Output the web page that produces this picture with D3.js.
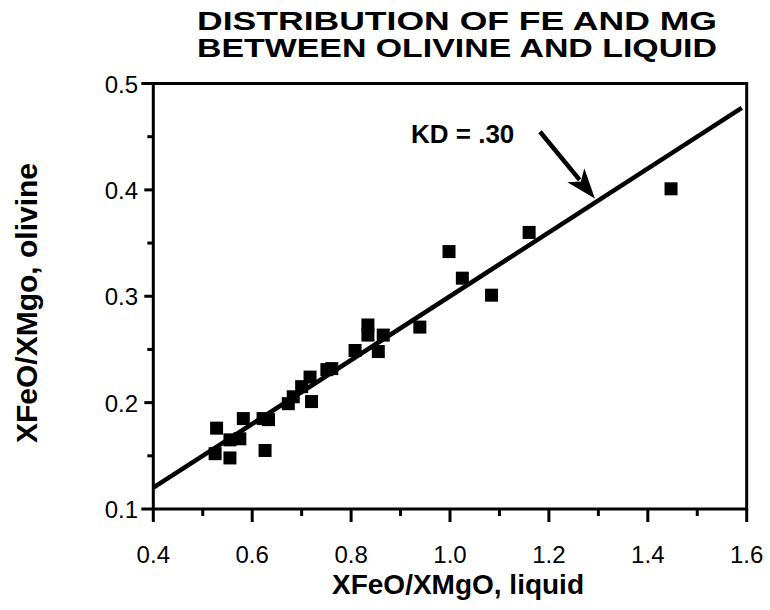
<!DOCTYPE html>
<html lang="en">
<head>
  <meta charset="UTF-8">
  <title>Distribution of Fe and Mg</title>
  <script src="https://d3js.org/d3.v7.min.js"></script>
  <style>
    body { margin: 0; background: #fff; }
    text { font-family: "Liberation Sans", Arial, sans-serif; fill: #000; }
    .title { font-size: 26px; font-weight: bold; }
    .axisTitle { font-weight: bold; }
    .tickLabel { font-size: 24px; }
    .frame { fill: none; stroke: #000; stroke-width: 3px; }
    .tick { stroke: #000; stroke-width: 3px; }
    .fit { stroke: #000; stroke-width: 4.5px; }
    .pt { fill: #000; }
  </style>
</head>
<body>
  <svg width="770" height="610"></svg>
  <script>
    // values
    let liquid  = [0.528, 0.525, 0.555, 0.555, 0.575, 0.582, 0.622, 0.633, 0.626, 0.673,
                   0.683, 0.700, 0.717, 0.720, 0.751, 0.761, 0.808, 0.855, 0.834, 0.834,
                   0.865, 0.939, 0.998, 1.025, 1.084, 1.160, 1.447],
        olivine = [0.176, 0.152, 0.165, 0.148, 0.166, 0.185, 0.185, 0.184, 0.155, 0.199,
                   0.2055, 0.215, 0.224, 0.201, 0.231, 0.232, 0.249, 0.248, 0.273, 0.2635,
                   0.2635, 0.271, 0.342, 0.317, 0.301, 0.360, 0.401],
        xTicks = [0.4, 0.6, 0.8, 1.0, 1.2, 1.4, 1.6],
        xMinor = [0.5, 0.7, 0.9, 1.1, 1.3, 1.5],
        yTicks = [0.1, 0.2, 0.3, 0.4, 0.5],
        yMinor = [0.15, 0.25, 0.35, 0.45],
        kd = 0.30,
        arrowFrom = [1.182, 0.4546],
        arrowTo = [1.293, 0.392],
        titleLines = ["DISTRIBUTION OF FE AND MG", "BETWEEN OLIVINE AND LIQUID"];

    const svg = d3.select("svg");

    const x = d3.scaleLinear().domain([0.4, 1.6]).range([153.3, 746.7]);
    const y = d3.scaleLinear().domain([0.1, 0.5]).range([509, 83.5]);

    // title
    svg.selectAll(".title")
      .data(titleLines)
      .join("text")
        .attr("class", "title")
        .attr("x", 197)
        .attr("y", (d, i) => 30 + i * 27)
        .attr("textLength", 520)
        .attr("lengthAdjust", "spacingAndGlyphs")
        .text(d => d);

    // fit line  y = KD * x
    svg.append("line")
      .attr("class", "fit")
      .attr("x1", x(0.4)).attr("y1", y(kd * 0.4))
      .attr("x2", x(1.59)).attr("y2", y(kd * 1.59));

    // points
    const size = 13;
    svg.selectAll(".pt")
      .data(liquid.map((d, i) => [d, olivine[i]]))
      .join("rect")
        .attr("class", "pt")
        .attr("x", d => x(d[0]) - size / 2)
        .attr("y", d => y(d[1]) - size / 2)
        .attr("width", size)
        .attr("height", size);

    // frame
    svg.append("rect")
      .attr("class", "frame")
      .attr("x", x(0.4)).attr("y", y(0.5))
      .attr("width", x(1.6) - x(0.4))
      .attr("height", y(0.1) - y(0.5));

    // x ticks
    svg.selectAll(".xmaj")
      .data(xTicks)
      .join("line")
        .attr("class", "tick")
        .attr("x1", d => x(d)).attr("x2", d => x(d))
        .attr("y1", y(0.1)).attr("y2", y(0.1) + 13);
    svg.selectAll(".xmin")
      .data(xMinor)
      .join("line")
        .attr("class", "tick")
        .attr("x1", d => x(d)).attr("x2", d => x(d))
        .attr("y1", y(0.1)).attr("y2", y(0.1) + 7);
    svg.selectAll(".xlab")
      .data(xTicks)
      .join("text")
        .attr("class", "tickLabel")
        .attr("text-anchor", "middle")
        .attr("x", d => x(d))
        .attr("y", 563)
        .text(d => d.toFixed(1));

    // y ticks
    svg.selectAll(".ymaj")
      .data(yTicks)
      .join("line")
        .attr("class", "tick")
        .attr("y1", d => y(d)).attr("y2", d => y(d))
        .attr("x1", x(0.4)).attr("x2", d => x(0.4) - (d == 0.1 || d == 0.5 ? 12 : 9));
    svg.selectAll(".ymin")
      .data(yMinor)
      .join("line")
        .attr("class", "tick")
        .attr("y1", d => y(d)).attr("y2", d => y(d))
        .attr("x1", x(0.4)).attr("x2", x(0.4) - 6);
    svg.selectAll(".ylab")
      .data(yTicks)
      .join("text")
        .attr("class", "tickLabel")
        .attr("text-anchor", "end")
        .attr("x", 138)
        .attr("y", d => y(d) + 9)
        .text(d => d.toFixed(1));

    // axis titles
    svg.append("text")
      .attr("class", "axisTitle")
      .attr("text-anchor", "middle")
      .attr("x", 458).attr("y", 594)
      .style("font-size", "28px")
      .text("XFeO/XMgO, liquid");
    svg.append("text")
      .attr("class", "axisTitle")
      .attr("text-anchor", "middle")
      .attr("transform", "translate(37,303) rotate(-90)")
      .style("font-size", "30px")
      .text("XFeO/XMgo, olivine");

    // KD annotation + arrow
    svg.append("text")
      .attr("class", "axisTitle")
      .attr("x", 411).attr("y", 143)
      .style("font-size", "26px")
      .text("KD = .30");

    const ax1 = x(arrowFrom[0]), ay1 = y(arrowFrom[1]),
          ax2 = x(arrowTo[0]), ay2 = y(arrowTo[1]);
    const ang = Math.atan2(ay2 - ay1, ax2 - ax1);
    const headLen = 30, headW = 11;
    const bx = ax2 - headLen * Math.cos(ang), by = ay2 - headLen * Math.sin(ang);
    svg.append("line")
      .attr("class", "fit")
      .attr("x1", ax1).attr("y1", ay1)
      .attr("x2", bx + 6 * Math.cos(ang)).attr("y2", by + 6 * Math.sin(ang));
    svg.append("path")
      .attr("fill", "#000")
      .attr("d", "M" + ax2 + "," + ay2
        + "L" + (bx + headW * Math.sin(ang)) + "," + (by - headW * Math.cos(ang))
        + "L" + (bx + 8 * Math.cos(ang)) + "," + (by + 8 * Math.sin(ang))
        + "L" + (bx - headW * Math.sin(ang)) + "," + (by + headW * Math.cos(ang)) + "Z");
  </script>
</body>
</html>
